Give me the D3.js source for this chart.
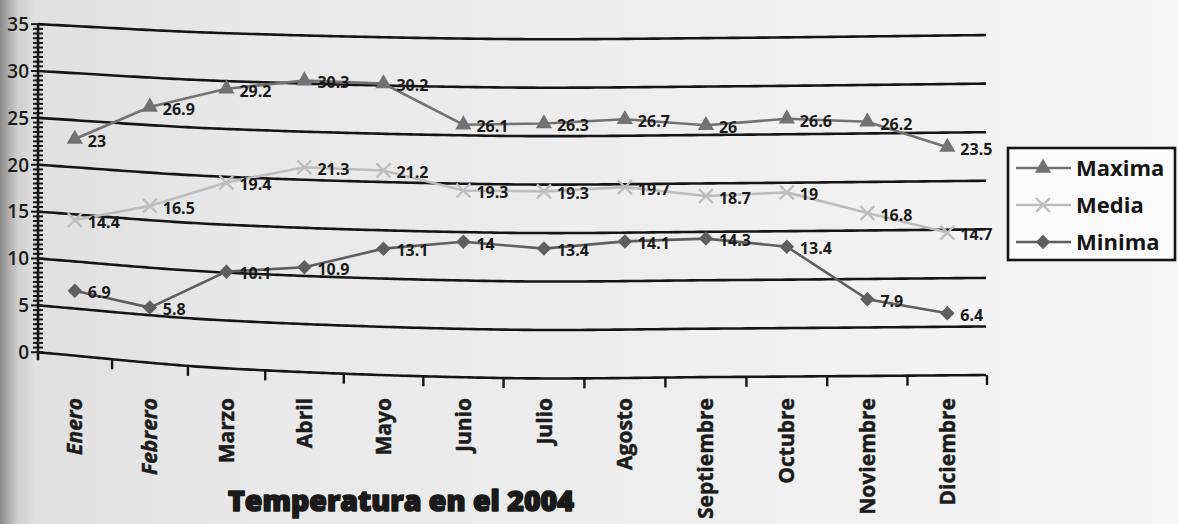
<!DOCTYPE html>
<html>
<head>
<meta charset="utf-8">
<script src="https://cdn.jsdelivr.net/npm/d3@7"></script>
<style>
  html, body { margin: 0; padding: 0; background: #eeeeee; }
  svg { display: block; }
</style>
</head>
<body>
<svg id="chart" width="1178" height="524"></svg>
<script>
// ---- data ----
const months = ["Enero", "Febrero", "Marzo", "Abril", "Mayo", "Junio", "Julio",
  "Agosto", "Septiembre", "Octubre", "Noviembre", "Diciembre"];
const maxima = [23, 26.9, 29.2, 30.3, 30.2, 26.1, 26.3, 26.7, 26, 26.6, 26.2, 23.5];
const media  = [14.4, 16.5, 19.4, 21.3, 21.2, 19.3, 19.3, 19.7, 18.7, 19, 16.8, 14.7];
const minima = [6.9, 5.8, 10.1, 10.9, 13.1, 14, 13.4, 14.1, 14.3, 13.4, 7.9, 6.4];
const yTickValues = [0, 5, 10, 15, 20, 25, 30, 35];
const seriesNames = ["Maxima", "Media", "Minima"];
const chartTitle = "Temperatura en el 2004";

const W = 1178, H = 524;
const svg = d3.select("#chart");

// ---- layout ----
const plotLeft = 38, plotRight = 987;
// the sheet bows: top and bottom edges of the value range follow a gentle curve
const bowX   = [35, 220, 500, 720, 990];
const bowTop = [24, 33, 39, 38, 35];
const bowBot = [352, 368, 378, 377, 375];

function hermite(xs, ys) {
  const n = xs.length;
  const m = ys.map((y, i) => i === 0 ? (ys[1] - ys[0]) / (xs[1] - xs[0])
    : i === n - 1 ? (ys[n - 1] - ys[n - 2]) / (xs[n - 1] - xs[n - 2])
    : (ys[i + 1] - ys[i - 1]) / (xs[i + 1] - xs[i - 1]));
  return x => {
    let i = d3.bisectRight(xs, x) - 1;
    i = Math.max(0, Math.min(n - 2, i));
    const h = xs[i + 1] - xs[i], t = (x - xs[i]) / h, t2 = t * t, t3 = t2 * t;
    return (2 * t3 - 3 * t2 + 1) * ys[i] + (t3 - 2 * t2 + t) * h * m[i]
      + (-2 * t3 + 3 * t2) * ys[i + 1] + (t3 - t2) * h * m[i + 1];
  };
}
const topAt = hermite(bowX, bowTop);
const botAt = hermite(bowX, bowBot);

// horizontal position: band scale on [0,1], squeezed slightly toward the left
const xBand = d3.scaleBand().domain(months).range([0, 1]);
const xPix = d3.scaleLinear().domain([0, 1]).range([plotLeft, plotRight]);
const squeeze = t => t - 0.075 * t * (1 - t) * (1 - t);
const xAt = t => xPix(squeeze(t));
const xMonth = m => xAt(xBand(m) + xBand.bandwidth() / 2);

// vertical position: linear value scale on [0,1], mapped between the bowed edges
const yNorm = d3.scaleLinear().domain([0, 35]).range([0, 1]);
const yAt = (x, v) => { const b = botAt(x), t = topAt(x); return b - yNorm(v) * (b - t); };

// ---- background paper ----
const defs = svg.append("defs");
const bg = defs.append("linearGradient").attr("id", "paper").attr("x1", 0).attr("x2", 1).attr("y1", 0).attr("y2", 0);
[[0, "#8a8a8a"], [0.006, "#a8a8a8"], [0.015, "#cfcfcf"], [0.03, "#e0e0e0"], [0.2, "#e8e8e8"],
 [0.55, "#eeeeee"], [1, "#f6f6f6"]].forEach(([o, c]) => bg.append("stop").attr("offset", o).attr("stop-color", c));
svg.append("rect").attr("width", W).attr("height", H).attr("fill", "url(#paper)");

const ink = "#151515";
const fontMain = "'Open Sans', 'Noto Sans', sans-serif";

// ---- gridlines ----
const xsSample = d3.range(plotLeft, plotRight + 0.1, 4);
const gridLine = d3.line().x(d => d[0]).y(d => d[1]);
svg.append("g").selectAll("path").data(yTickValues).join("path")
  .attr("d", v => gridLine(xsSample.map(x => [x, yAt(x, v)])))
  .attr("fill", "none").attr("stroke", ink).attr("stroke-width", 2.6);

// ---- y axis ----
const yAxisG = svg.append("g");
yAxisG.append("line")
  .attr("x1", plotLeft).attr("x2", plotLeft)
  .attr("y1", yAt(plotLeft, 35)).attr("y2", yAt(plotLeft, 0) + 8)
  .attr("stroke", ink).attr("stroke-width", 2.6);
const minorTicks = d3.range(0, 35.01, 0.5);
yAxisG.selectAll("line.minor").data(minorTicks).join("line").attr("class", "minor")
  .attr("x1", v => v % 5 === 0 ? plotLeft - 7 : plotLeft - 5)
  .attr("x2", plotLeft + 5)
  .attr("y1", v => yAt(plotLeft, v)).attr("y2", v => yAt(plotLeft, v))
  .attr("stroke", ink).attr("stroke-width", 2);
yAxisG.selectAll("text").data(yTickValues).join("text")
  .attr("x", 29).attr("y", v => yAt(plotLeft, v)).attr("dy", "0.36em")
  .attr("text-anchor", "end").attr("font-family", fontMain).attr("font-weight", 600)
  .attr("font-size", 19).attr("fill", "#1c1c1c").text(d => d);

// ---- x axis ticks and labels ----
const xTicks = d3.range(1, 13).map(k => k / 12);
svg.append("g").selectAll("line").data(xTicks).join("line")
  .attr("x1", t => xAt(t)).attr("x2", t => xAt(t))
  .attr("y1", t => botAt(xAt(t))).attr("y2", t => botAt(xAt(t)) + 10)
  .attr("stroke", ink).attr("stroke-width", 2.4);

svg.append("g").selectAll("text").data(months).join("text")
  .attr("transform", m => `translate(${xMonth(m)},${398}) rotate(-90)`)
  .attr("dy", "0.36em").attr("text-anchor", "end")
  .attr("font-family", fontMain).attr("font-weight", 700).attr("font-size", 21)
  .attr("font-style", (m, i) => i < 2 ? "italic" : "normal")
  .attr("fill", "#1c1c1c").attr("stroke", "#1c1c1c").attr("stroke-width", 0.5)
  .text(d => d);

// ---- series ----
const series = [
  { name: seriesNames[0], values: maxima, color: "#727272", marker: "triangle" },
  { name: seriesNames[1], values: media,  color: "#bdbdbd", marker: "cross" },
  { name: seriesNames[2], values: minima, color: "#5e5e5e", marker: "diamond" }
];

function drawMarker(g, kind, color) {
  if (kind === "triangle") {
    g.append("path").attr("d", d3.symbol(d3.symbolTriangle, 115)()).attr("fill", color);
  } else if (kind === "diamond") {
    g.append("path").attr("d", d3.symbol(d3.symbolSquare, 105)()).attr("transform", "rotate(45)").attr("fill", color);
  } else {
    g.append("path").attr("d", "M-7,-7L7,7M-7,7L7,-7").attr("stroke", color).attr("stroke-width", 2.4).attr("fill", "none");
  }
}

const line = d3.line().x(d => d.x).y(d => d.y);
series.forEach(s => {
  const pts = months.map((m, i) => ({ x: xMonth(m), y: yAt(xMonth(m), s.values[i]), v: s.values[i] }));
  const g = svg.append("g");
  g.append("path").attr("d", line(pts)).attr("fill", "none")
    .attr("stroke", s.color).attr("stroke-width", 2.6);
  g.selectAll("g.pt").data(pts).join("g").attr("class", "pt")
    .attr("transform", d => `translate(${d.x},${d.y})`)
    .each(function () { drawMarker(d3.select(this), s.marker, s.color); });
  g.selectAll("text").data(pts).join("text")
    .attr("x", d => d.x + 13).attr("y", d => d.y + 2).attr("dy", "0.36em")
    .attr("font-family", fontMain).attr("font-weight", 700).attr("font-size", 16)
    .attr("fill", "#1a1a1a").text(d => d.v);
});

// ---- legend ----
const lg = svg.append("g").attr("transform", "translate(1008,148)");
lg.append("rect").attr("width", 167).attr("height", 112)
  .attr("fill", "#fbfbfb").attr("stroke", ink).attr("stroke-width", 2.6);
series.forEach((s, i) => {
  const row = lg.append("g").attr("transform", `translate(0,${20 + i * 37})`);
  row.append("line").attr("x1", 8).attr("x2", 63).attr("y1", 0).attr("y2", 0)
    .attr("stroke", s.color).attr("stroke-width", 2.6);
  const mk = row.append("g").attr("transform", "translate(35,0)");
  drawMarker(mk, s.marker, s.color);
  row.append("text").attr("x", 68).attr("y", 0).attr("dy", "0.36em")
    .attr("font-family", fontMain).attr("font-weight", 700).attr("font-size", 22)
    .attr("fill", "#151515").text(s.name);
});

// ---- title ----
svg.append("text").attr("x", 228).attr("y", 511)
  .attr("textLength", 346).attr("lengthAdjust", "spacingAndGlyphs")
  .attr("font-family", "'Open Sans', sans-serif").attr("font-weight", 800)
  .attr("font-size", 28).attr("fill", "#1a1a1a")
  .attr("stroke", "#1a1a1a").attr("stroke-width", 1.6).attr("stroke-linejoin", "round")
  .text(chartTitle);
</script>
</body>
</html>
